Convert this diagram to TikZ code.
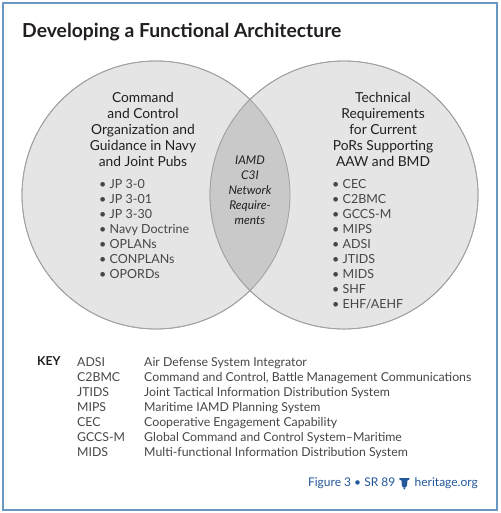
\documentclass[tikz,border=0pt]{standalone}
\usepackage{fontspec}
\setmainfont{Lato}
\usepackage{xcolor}
\usetikzlibrary{positioning}
\definecolor{hfframe}{RGB}{106,150,194}
\definecolor{hfdisk}{RGB}{229,229,229}
\definecolor{hflens}{RGB}{201,201,201}
\definecolor{hfedge}{RGB}{160,160,160}
\definecolor{hfink}{RGB}{35,31,32}
\definecolor{hfgray}{RGB}{70,70,70}
\definecolor{hfblue}{RGB}{34,87,154}
\tikzset{
  frame/.style={draw=hfframe, line width=2pt},
  disk/.style={fill=hfdisk, draw=hfedge, line width=0.8pt},
  head/.style={align=center, inner sep=0pt, text=hfink,
    font=\fontsize{13.8}{16}\selectfont},
  items/.style={align=left, inner sep=0pt, text=hfgray,
    font=\fontsize{12.5}{15}\selectfont},
  lens/.style={align=center, inner sep=0pt, text=hfink,
    font=\fontsize{12}{15}\selectfont\itshape},
  keytab/.style={align=left, inner sep=0pt, text=hfgray,
    font=\fontsize{12.3}{15}\selectfont},
  foot/.style={inner sep=0pt, text=hfblue, font=\fontsize{12}{13}\selectfont}
}
\begin{document}
\begin{tikzpicture}[x=1pt, y=-1pt]
  \useasboundingbox (0,0) rectangle (500,513);
  \draw[frame] (3,3) rectangle (497,510);

  % title
  \node[anchor=base west, inner sep=0pt, text=hfink,
    font=\fontsize{19.3}{21}\selectfont\bfseries] (title) at (22,38)
    {Developing a Functional Architecture};

  % venn
  \coordinate (cl) at (156,195);
  \coordinate (cr) at (344,195);
  \draw[disk] (cl) circle[radius=134];
  \draw[disk] (cr) circle[radius=134];
  \begin{scope}
    \clip (cl) circle[radius=134];
    \fill[hflens] (cr) circle[radius=134];
  \end{scope}
  \draw[hfedge, line width=0.8pt] (cl) circle[radius=134];
  \draw[hfedge, line width=0.8pt] (cr) circle[radius=134];

  \node[head, anchor=north] (cmd) at (143,92)
    {Command\\and Control\\Organization and\\Guidance in Navy\\and Joint Pubs};
  \node[items, anchor=north west] (pubs) at (99,179)
    {\textbullet\ JP 3-0\\\textbullet\ JP 3-01\\\textbullet\ JP 3-30\\
     \textbullet\ Navy Doctrine\\\textbullet\ OPLANs\\\textbullet\ CONPLANs\\
     \textbullet\ OPORDs};

  \node[head, anchor=north] (tech) at (383,92)
    {Technical\\Requirements\\for Current\\PoRs Supporting\\AAW and BMD};
  \node[items, anchor=north west] (pors) at (332,179)
    {\textbullet\ CEC\\\textbullet\ C2BMC\\\textbullet\ GCCS-M\\
     \textbullet\ MIPS\\\textbullet\ ADSI\\\textbullet\ JTIDS\\
     \textbullet\ MIDS\\\textbullet\ SHF\\\textbullet\ EHF/AEHF};

  \node[lens] (net) at (250,190)
    {IAMD\\C3I\\Network\\Require-\\ments};

  % key
  \node[anchor=north west, inner sep=0pt, text=hfink,
    font=\fontsize{12.3}{15}\selectfont\bfseries] (key) at (37,356) {KEY};
  \node[keytab, anchor=north west] (keyrows) at (77,356)
    {\begin{tabular}{@{}p{67pt}@{}l@{}}
     ADSI & Air Defense System Integrator\\
     C2BMC & Command and Control, Battle Management Communications\\
     JTIDS & Joint Tactical Information Distribution System\\
     MIPS & Maritime IAMD Planning System\\
     CEC & Cooperative Engagement Capability\\
     GCCS-M & Global Command and Control System--Maritime\\
     MIDS & Multi-functional Information Distribution System
     \end{tabular}};

  % footer
  \node[foot, anchor=east] (site) at (478,483) {heritage.org};
  \coordinate[left=10pt of site.west] (bell);
  \fill[hfblue] ([xshift=-5pt,yshift=5pt]bell) -- ([xshift=5pt,yshift=5pt]bell)
    -- ([xshift=5pt,yshift=3.5pt]bell) -- ([xshift=3pt,yshift=2.5pt]bell)
    -- ([xshift=2.5pt,yshift=-3pt]bell) -- ([xshift=1pt,yshift=-4.5pt]bell)
    -- ([xshift=-1pt,yshift=-4.5pt]bell) -- ([xshift=-2.5pt,yshift=-3pt]bell)
    -- ([xshift=-3pt,yshift=2.5pt]bell) -- ([xshift=-5pt,yshift=3.5pt]bell) -- cycle;
  \fill[hfblue] ([yshift=-5.5pt]bell) circle[radius=1pt];
  \node[foot, anchor=east] (fig) at ([xshift=-19pt]site.west)
    {Figure 3 \textbullet\ SR 89};
\end{tikzpicture}
\end{document}
